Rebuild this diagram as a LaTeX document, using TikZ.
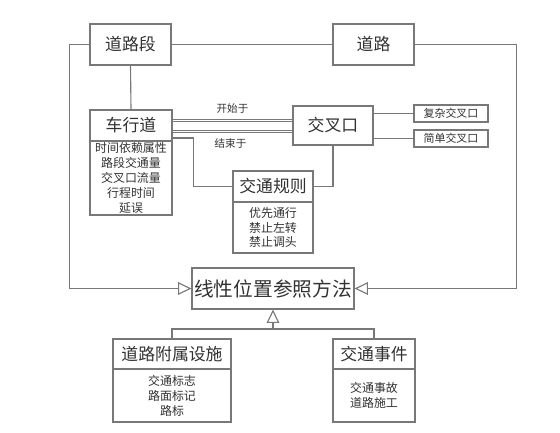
\documentclass[tikz,border=0pt]{standalone}
\usepackage{fontspec}
\newfontfamily\cjk{Noto Sans CJK SC}
\usepackage{xcolor}
\usetikzlibrary{arrows.meta,positioning}
\definecolor{linegray}{RGB}{120,120,120}
\definecolor{textgray}{RGB}{50,50,50}
\tikzset{
  umlbox/.style={rectangle, draw=linegray, line width=0.8pt, fill=white,
                 inner sep=0pt, align=center, text=textgray,
                 font=\cjk\fontsize{12}{14}\selectfont},
  attrbox/.style={umlbox, font=\cjk\fontsize{8.5}{10.6}\selectfont},
  smallbox/.style={umlbox, font=\cjk\fontsize{7.8}{9}\selectfont},
  conn/.style={draw=linegray, line width=0.8pt},
  dbl/.style={conn, line width=0.55pt, double=white, double distance=1.2pt},
  inh/.style={conn, -{Triangle[open, length=9.5pt, width=9pt, fill=white]}},
  lbl/.style={font=\cjk\fontsize{7.5}{9}\selectfont, text=textgray, inner sep=1pt},
}
\begin{document}
\begin{tikzpicture}[x=0.25mm, y=-0.25mm]
  \useasboundingbox (0,0) rectangle (560,432);

  % ---- top row ----
  \node[umlbox, minimum width=81*0.25mm, minimum height=41*0.25mm] (segment) at (130.5,44.5) {道路段};
  \node[umlbox, minimum width=81*0.25mm, minimum height=41*0.25mm] (road) at (373.5,44.5) {道路};

  % ---- lane, intersection, rules ----
  \node[umlbox, minimum width=82*0.25mm, minimum height=31*0.25mm] (lane) at (131,125.5) {车行道};
  \node[attrbox, minimum width=82*0.25mm, minimum height=74*0.25mm] (laneattr) at (131,178)
    {时间依赖属性\\路段交通量\\交叉口流量\\行程时间\\延误};
  \node[umlbox, minimum width=80*0.25mm, minimum height=39*0.25mm] (cross) at (333,125.5) {交叉口};
  \node[smallbox, minimum width=74*0.25mm, minimum height=17*0.25mm] (complex) at (451,113.5) {复杂交叉口};
  \node[smallbox, minimum width=74*0.25mm, minimum height=17*0.25mm] (simple) at (451,138.5) {简单交叉口};
  \node[umlbox, minimum width=80*0.25mm, minimum height=31*0.25mm] (rule) at (273,186.5) {交通规则};
  \node[attrbox, minimum width=80*0.25mm, minimum height=51*0.25mm] (ruleattr) at (273,227.5)
    {优先通行\\禁止左转\\禁止调头};

  % ---- linear referencing ----
  \node[umlbox, font=\cjk\fontsize{14}{16}\selectfont,
        minimum width=162*0.25mm, minimum height=41*0.25mm] (lrm) at (273,288.5) {线性位置参照方法};

  % ---- bottom row ----
  \node[umlbox, minimum width=118*0.25mm, minimum height=30*0.25mm] (facility) at (172,354) {道路附属设施};
  \node[attrbox, minimum width=118*0.25mm, minimum height=53*0.25mm] (facattr) at (172,395.5)
    {交通标志\\路面标记\\路标};
  \node[umlbox, minimum width=82*0.25mm, minimum height=30*0.25mm] (event) at (374,354) {交通事件};
  \node[attrbox, minimum width=82*0.25mm, minimum height=53*0.25mm] (eventattr) at (374,395.5)
    {交通事故\\道路施工};

  % ---- connectors ----
  \draw[conn] (segment.east) -- (road.west);
  \draw[conn] (segment.south) -- (lane.north);
  \draw[inh] (segment.west) -- ++(-20,0) |- (lrm.west);
  \draw[inh] (road.east) -- ++(102,0) |- (lrm.east);

  \draw[dbl] (lane.east |- 0,120.5) -- (cross.west |- 0,120.5)
    node[lbl, midway, above=5.5mm*0.25] {开始于};
  \draw[dbl] (lane.east |- 0,131.5) -- (cross.west |- 0,131.5)
    node[lbl, midway, below=5mm*0.25, xshift=-0.5mm] {结束于};
  \draw[conn] (lane.east |- 0,138) -- ++(21,0) |- (rule.west);
  \draw[conn] (cross.south) |- (rule.east);
  \draw[conn] (cross.east |- complex) -- (complex.west);
  \draw[conn] (cross.east |- simple) -- (simple.west);

  \coordinate (join) at (273,329);
  \draw[conn] (facility.north) |- (join) -| (event.north);
  \draw[inh] (join) -- (lrm.south);
\end{tikzpicture}
\end{document}
